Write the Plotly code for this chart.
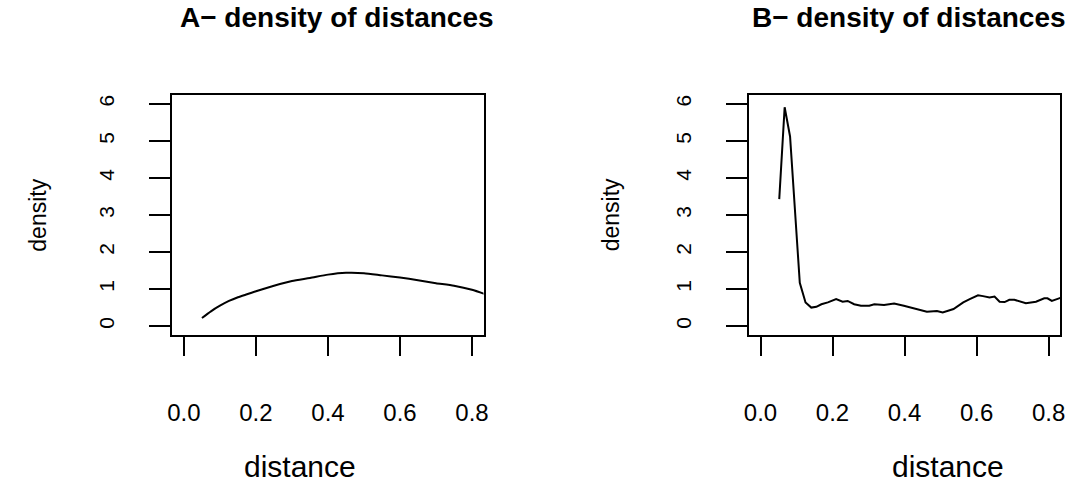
import plotly.graph_objects as go

# Panel A: smooth density of distances
dist_a = [0.05, 0.075, 0.10, 0.125, 0.15, 0.175, 0.20, 0.25, 0.30, 0.35, 0.40, 0.45, 0.50,
          0.55, 0.60, 0.65, 0.70, 0.75, 0.80, 0.85]
dens_a = [0.22, 0.40, 0.55, 0.68, 0.78, 0.86, 0.94, 1.09, 1.22, 1.30, 1.39, 1.44, 1.43,
          1.37, 1.31, 1.24, 1.16, 1.09, 0.98, 0.82]

# Panel B: density of distances (bumpy)
dist_b = [0.052, 0.067, 0.082, 0.109, 0.125, 0.141, 0.155, 0.169, 0.187, 0.210,
          0.228, 0.242, 0.260, 0.279, 0.302, 0.316, 0.343, 0.371, 0.398, 0.430,
          0.444, 0.462, 0.490, 0.506, 0.536, 0.563, 0.581, 0.604, 0.618, 0.636,
          0.650, 0.664, 0.678, 0.691, 0.705, 0.737, 0.765, 0.788, 0.797, 0.809,
          0.829, 0.840]
dens_b = [3.43, 5.91, 5.12, 1.17, 0.64, 0.50, 0.52, 0.59, 0.64, 0.73,
          0.66, 0.68, 0.59, 0.55, 0.55, 0.59, 0.57, 0.61, 0.55, 0.46,
          0.44, 0.39, 0.41, 0.37, 0.46, 0.64, 0.73, 0.83, 0.81, 0.77,
          0.80, 0.66, 0.65, 0.71, 0.71, 0.62, 0.66, 0.75, 0.75, 0.68,
          0.75, 0.78]

x_ticks = [0.0, 0.2, 0.4, 0.6, 0.8]
x_tick_labels = ["0.0", "0.2", "0.4", "0.6", "0.8"]
y_ticks = [0, 1, 2, 3, 4, 5, 6]
y_tick_labels = ["0", "1", "2", "3", "4", "5", "6"]
titles = ["A\u2212 density of distances", "B\u2212 density of distances"]
x_title = "distance"
y_title = "density"

W, H = 1075, 483
FONT = "Liberation Sans, Arial, sans-serif"

fig = go.Figure()
fig.add_trace(go.Scatter(x=dist_a, y=dens_a, mode="lines",
                         line=dict(color="black", width=2, shape="spline", smoothing=0.6),
                         xaxis="x", yaxis="y", showlegend=False, hoverinfo="skip"))
fig.add_trace(go.Scatter(x=dist_b, y=dens_b, mode="lines",
                         line=dict(color="black", width=2), xaxis="x2", yaxis="y2",
                         showlegend=False, hoverinfo="skip"))

boxes = [(169, 483), (751, 1065)]
ytop, ybot = 95, 335
ydom = [1 - ybot / H, 1 - ytop / H]

def xaxis_cfg(dom, anchor):
    return dict(domain=dom, anchor=anchor, range=[-0.032, 0.832],
                tickvals=x_ticks, ticktext=x_tick_labels,
                ticks="outside", ticklen=19, tickwidth=2, tickcolor="black",
                showline=True, mirror=True, linecolor="black", linewidth=2,
                showgrid=False, zeroline=False, ticklabelstandoff=36,
                tickfont=dict(family=FONT, size=24, color="black"))

def yaxis_cfg(anchor):
    return dict(domain=ydom, anchor=anchor, range=[-0.24, 6.24],
                tickvals=y_ticks, ticktext=y_tick_labels, tickangle=-90,
                ticks="outside", ticklen=21, tickwidth=2, tickcolor="black",
                showline=True, mirror=True, linecolor="black", linewidth=2,
                showgrid=False, zeroline=False, ticklabelstandoff=27,
                tickfont=dict(family=FONT, size=21, color="black"))

fig.update_layout(
    width=W, height=H,
    margin=dict(l=0, r=0, t=0, b=0),
    paper_bgcolor="white", plot_bgcolor="white",
    xaxis=xaxis_cfg([boxes[0][0] / W, boxes[0][1] / W], "y"),
    yaxis=yaxis_cfg("x"),
    xaxis2=xaxis_cfg([boxes[1][0] / W, boxes[1][1] / W], "y2"),
    yaxis2=yaxis_cfg("x2"),
)

title_cx = [335, 912]
xtitle_cx = [298, 952]
ytitle_cx = [33, 612]
for i in range(2):
    fig.add_annotation(text="<b>" + titles[i] + "</b>", xref="paper", yref="paper",
                       x=title_cx[i] / W, y=1 - 18 / H, showarrow=False,
                       xanchor="center", yanchor="middle",
                       font=dict(family=FONT, size=28, color="black"))
    fig.add_annotation(text=x_title, xref="paper", yref="paper",
                       x=xtitle_cx[i] / W, y=1 - 466 / H, showarrow=False,
                       xanchor="center", yanchor="middle",
                       font=dict(family=FONT, size=30, color="black"))
    fig.add_annotation(text=y_title, xref="paper", yref="paper",
                       x=ytitle_cx[i] / W, y=1 - 215 / H, showarrow=False,
                       textangle=-90, xanchor="center", yanchor="middle",
                       font=dict(family=FONT, size=23, color="black"))

fig.write_html("out.html")
